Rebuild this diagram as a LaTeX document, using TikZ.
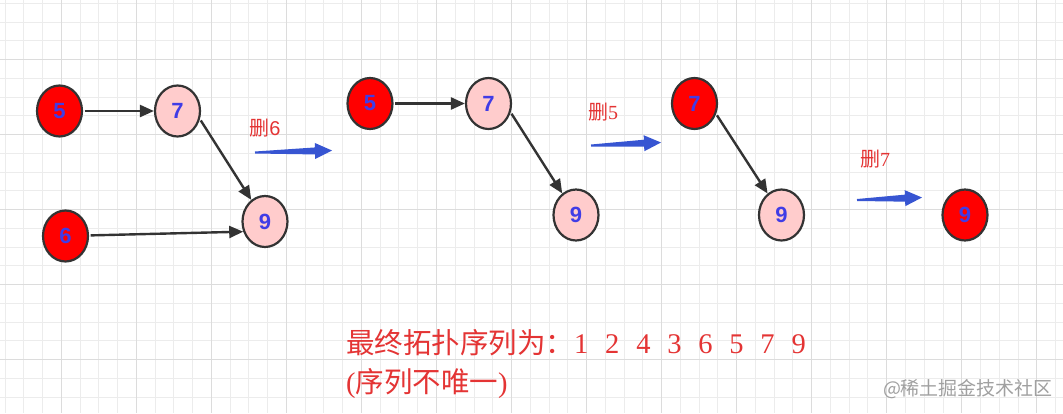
\documentclass[tikz,border=0pt]{standalone}
\usepackage{fontspec}
\setmainfont{Liberation Serif}
\setsansfont{Liberation Sans}
\newfontfamily\cjk{Noto Sans CJK SC}
\usetikzlibrary{arrows.meta,shapes.geometric,calc}
\definecolor{gridlight}{RGB}{236,236,236}
\definecolor{griddark}{RGB}{220,220,220}
\definecolor{nodered}{RGB}{255,0,0}
\definecolor{nodepink}{RGB}{255,204,204}
\definecolor{edgegray}{RGB}{51,51,51}
\definecolor{numblue}{RGB}{64,60,230}
\definecolor{notered}{RGB}{228,52,52}
\definecolor{stepblue}{RGB}{55,85,210}
\definecolor{markgray}{RGB}{160,160,160}
\newcommand\fatarrow[2]{%
  \fill[stepblue] ($(#1)!1pt!90:(#2)$)
    -- ($(#2)!17pt!(#1)!3.5pt!90:(#2)$) -- ($(#2)!17pt!(#1)!8pt!90:(#2)$)
    -- (#2)
    -- ($(#2)!17pt!(#1)!8pt!-90:(#2)$) -- ($(#2)!17pt!(#1)!3.5pt!-90:(#2)$)
    -- ($(#1)!1pt!-90:(#2)$) -- cycle;}
\newcommand\gap{\hspace{16.8pt}}

\begin{document}
\begin{tikzpicture}[x=1pt,y=-1pt,
  vertex/.style={ellipse,draw=edgegray,line width=2.2pt,minimum width=45pt,minimum height=51pt,inner sep=0pt,font=\sffamily\bfseries\fontsize{22}{22}\selectfont,text=numblue},
  done/.style={vertex,fill=nodered},
  todo/.style={vertex,fill=nodepink},
  edge/.style={edgegray,line width=2.4pt,shorten <=1.5pt,-{Triangle[length=14pt,width=12pt]}},
  note/.style={text=notered,inner sep=0pt,font=\fontsize{20}{20}\selectfont},
  result/.style={text=notered,inner sep=0pt,anchor=base west,font=\fontsize{28.5}{28.5}\selectfont}]
\useasboundingbox (0,0) rectangle (1063,413);
\fill[white] (0,0) rectangle (1063,413);
% grid
\foreach \i in {0,...,56}
  \draw[gridlight,line width=1pt] (5+18.76*\i,0) -- (5+18.76*\i,413);
\foreach \i in {0,...,21}
  \draw[gridlight,line width=1pt] (0,3.3+18.76*\i) -- (1063,3.3+18.76*\i);
\foreach \i in {3,7,...,55}
  \draw[griddark,line width=1pt] (5+18.76*\i,0) -- (5+18.76*\i,413);
\foreach \i in {3,7,...,19}
  \draw[griddark,line width=1pt] (0,3.3+18.76*\i) -- (1063,3.3+18.76*\i);

% step 1
\node[done] (a5) at (59.5,111) {5};
\node[todo] (a7) at (177.5,111) {7};
\node[todo] (a9) at (265,221.5) {9};
\node[done] (a6) at (65.5,236) {6};
\draw[edge] (a5) -- (a7);
\draw[edge] (a7.-20) -- (a9);
\draw[edge] (a6) -- (a9.205);
\node[note] (del6) at (265,128) {{\cjk 删}\sffamily 6};
\coordinate (s1) at (255,152.5);
\coordinate (t1) at (332,150.5);
\fatarrow{s1}{t1}

% step 2
\node[done] (b5) at (370,103.5) {5};
\node[todo] (b7) at (488.5,103.5) {7};
\node[todo] (b9) at (576,215) {9};
\draw[edge] (b5) -- (b7);
\draw[edge] (b7.-22) -- (b9);
\node[note] (del5) at (603,112) {{\cjk 删}5};
\coordinate (s2) at (591,145.5);
\coordinate (t2) at (661,142.5);
\fatarrow{s2}{t2}

% step 3
\node[done] (c7) at (694.5,103.5) {7};
\node[todo] (c9) at (781.5,215) {9};
\draw[edge] (c7.-26) -- (c9);
\node[note] (del7) at (875,159) {{\cjk 删}7};
\coordinate (s3) at (857,200);
\coordinate (t3) at (922,197.5);
\fatarrow{s3}{t3}

% step 4
\node[done] (d9) at (965,215) {9};

\node[result] (order) at (346,353) {{\cjk 最终拓扑序列为：}1\gap 2\gap 4\gap 3\gap 6\gap 5\gap 7\gap 9};
\node[result] (remark) at (346,392) {({\cjk 序列不唯一})};
\node[text=markgray,inner sep=0pt,font=\cjk\fontsize{19}{19}\selectfont] (mark) at (968,389) {@稀土掘金技术社区};
\end{tikzpicture}
\end{document}
